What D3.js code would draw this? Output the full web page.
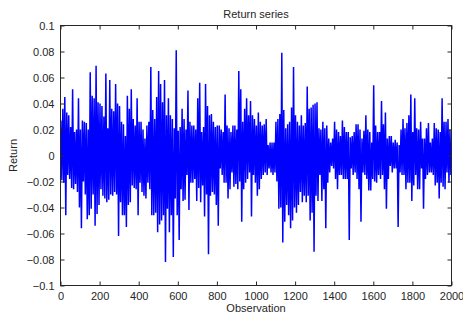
<!DOCTYPE html>
<html>
<head>
<meta charset="utf-8">
<script src="https://cdn.jsdelivr.net/npm/d3@7"></script>
<style>
  body { margin: 0; background: #fff; }
  svg text { font-family: Arial, "Liberation Sans", Helvetica, sans-serif; font-size: 11px; fill: #262626; }
</style>
</head>
<body>
<svg id="chart" width="463" height="321"></svg>
<script>
// Return series, read per 10-observation block as the highest and lowest value (x 0.001)
const binSize = 10;
const binHigh = [
  27, 36, 45, 33, 31, 22, 51, 18, 20, 44,
  20, 27, 26, 25, 20, 64, 46, 44, 69, 41,
  40, 38, 30, 63, 21, 58, 36, 34, 55, 40,
  38, 26, 24, 15, 46, 36, 51, 28, 23, 44,
  26, 26, 20, 13, 23, 26, 68, 35, 28, 45,
  65, 55, 41, 58, 31, 44, 31, 28, 21, 81,
  19, 22, 36, 28, 20, 50, 26, 23, 23, 20,
  44, 56, 18, 22, 55, 38, 31, 32, 26, 22,
  23, 23, 20, 18, 47, 23, 21, 18, 23, 23,
  20, 65, 51, 26, 36, 44, 31, 42, 31, 28,
  23, 33, 26, 23, 24, 28, 8, 10, 10, 10,
  26, 28, 32, 79, 35, 21, 24, 26, 37, 68,
  31, 26, 23, 31, 23, 25, 53, 36, 37, 39,
  40, 41, 21, 20, 26, 21, 23, 13, 10, 13,
  26, 20, 18, 15, 27, 22, 18, 18, 14, 15,
  18, 24, 24, 20, 13, 19, 31, 20, 18, 10,
  54, 23, 18, 18, 42, 24, 33, 13, 15, 15,
  10, 12, 10, 8, 20, 28, 21, 25, 31, 47,
  18, 44, 21, 20, 26, 13, 13, 21, 25, 10,
  13, 25, 21, 20, 18, 44, 26, 26, 28, 20
];
const binLow = [
  -19, -21, -46, -15, -18, -25, -26, -22, -28, -40,
  -56, -20, -30, -49, -46, -41, -30, -54, -45, -38,
  -26, -31, -33, -36, -34, -30, -31, -28, -30, -62,
  -36, -46, -46, -55, -38, -36, -23, -25, -26, -46,
  -21, -28, -31, -33, -21, -26, -46, -46, -44, -59,
  -53, -50, -46, -82, -41, -59, -46, -78, -33, -46,
  -65, -26, -35, -34, -15, -42, -21, -21, -18, -35,
  -25, -36, -23, -47, -30, -76, -31, -28, -30, -38,
  -54, -10, -15, -21, -21, -33, -26, -13, -24, -22,
  -26, -20, -51, -26, -21, -18, -13, -47, -15, -21,
  -31, -26, -18, -15, -13, -15, -10, -13, -15, -13,
  -20, -41, -40, -67, -51, -38, -46, -56, -50, -40,
  -44, -38, -28, -36, -31, -36, -31, -50, -44, -74,
  -31, -35, -15, -35, -26, -56, -21, -13, -8, -10,
  -18, -26, -15, -15, -18, -18, -18, -65, -10, -15,
  -13, -18, -26, -51, -13, -15, -18, -27, -27, -18,
  -20, -21, -15, -18, -15, -26, -41, -18, -8, -13,
  -10, -10, -55, -13, -15, -15, -26, -21, -21, -35,
  -23, -15, -26, -26, -10, -41, -18, -15, -13, -13,
  -15, -23, -21, -33, -21, -24, -26, -13, -21, -15
];
const xTicks = [0, 200, 400, 600, 800, 1000, 1200, 1400, 1600, 1800, 2000];
const yTicks = [-0.1, -0.08, -0.06, -0.04, -0.02, 0, 0.02, 0.04, 0.06, 0.08, 0.1];

// zig-zag through each block: high early in the block, low late in it
const points = [];
binHigh.forEach((hi, k) => {
  points.push({ obs: k * binSize + 2, v: hi / 1000 });
  points.push({ obs: k * binSize + 7, v: binLow[k] / 1000 });
});

const svg = d3.select("#chart");
const AXIS = "#262626";

const x = d3.scaleLinear().domain([0, 2000]).range([60.5, 451.5]);
const y = d3.scaleLinear().domain([-0.1, 0.1]).range([285.5, 25.5]);

// ── Plot line ─────────────────────────────────────────────────────────────
svg.append("clipPath").attr("id", "plotClip")
  .append("rect")
  .attr("x", x(0)).attr("y", y(0.1))
  .attr("width", x(2000) - x(0)).attr("height", y(-0.1) - y(0.1));

svg.append("path")
  .datum(points)
  .attr("clip-path", "url(#plotClip)")
  .attr("fill", "none")
  .attr("stroke", "#0000ff")
  .attr("stroke-width", 1.5)
  .attr("stroke-linejoin", "miter")
  .attr("stroke-miterlimit", 1)
  .attr("d", d3.line().x((d) => x(d.obs)).y((d) => y(d.v)));

// ── Axes (ticks inward on all four sides) ─────────────────────────────────
function styleAxis(g) {
  g.select(".domain").remove();
  g.selectAll(".tick line").attr("stroke", AXIS);
  g.selectAll(".tick text").attr("fill", AXIS).attr("font-size", 11)
    .attr("font-family", "Arial, 'Liberation Sans', sans-serif");
}

svg.append("g").attr("transform", `translate(0,${y(-0.1)})`)
  .call(d3.axisBottom(x).tickValues(xTicks).tickSize(-4).tickPadding(7).tickFormat(d3.format("d")))
  .call(styleAxis);
svg.append("g").attr("transform", `translate(0,${y(0.1)})`)
  .call(d3.axisTop(x).tickValues(xTicks).tickSize(-4).tickFormat(""))
  .call(styleAxis);
svg.append("g").attr("transform", `translate(${x(0)},0)`)
  .call(d3.axisLeft(y).tickValues(yTicks).tickSize(-4).tickPadding(6).tickFormat((d) => (d === 0 ? "0" : d3.format("")(+d.toFixed(2)))))
  .call(styleAxis);
svg.append("g").attr("transform", `translate(${x(2000)},0)`)
  .call(d3.axisRight(y).tickValues(yTicks).tickSize(-4).tickFormat(""))
  .call(styleAxis);

svg.append("rect")
  .attr("x", x(0)).attr("y", y(0.1))
  .attr("width", x(2000) - x(0)).attr("height", y(-0.1) - y(0.1))
  .attr("fill", "none").attr("stroke", AXIS).attr("stroke-width", 1);

// ── Labels ────────────────────────────────────────────────────────────────
const midX = (x(0) + x(2000)) / 2;
svg.append("text").attr("x", midX).attr("y", 18).attr("text-anchor", "middle").text("Return series");
svg.append("text").attr("x", midX).attr("y", 312).attr("text-anchor", "middle").text("Observation");
svg.append("text")
  .attr("transform", `translate(17,${(y(0.1) + y(-0.1)) / 2}) rotate(-90)`)
  .attr("text-anchor", "middle")
  .text("Return");
</script>
</body>
</html>
